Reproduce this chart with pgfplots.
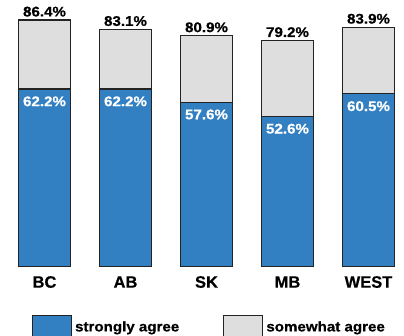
\documentclass[border=0pt]{standalone}
\usepackage{fontspec}
\setmainfont{Liberation Sans}
\newfontfamily\heavy{Liberation Sans Bold}[FakeBold=0.5]
\newfontfamily\heavywide{Liberation Sans Bold}[FakeBold=0.5,FakeStretch=1.08]
\usepackage{pgfplots}
\usepackage{pgfplotstable}
\pgfplotsset{compat=1.18}

\definecolor{agreeblue}{RGB}{50,128,194}
\definecolor{agreegray}{RGB}{222,222,222}
\definecolor{edgegray}{RGB}{35,35,35}

% share of respondents who agree, by province (total = strongly + somewhat)
\pgfplotstableread{
x strongly total
0 62.2 86.4
1 62.2 83.1
2 57.6 80.9
3 52.6 79.2
4 60.5 83.9
}\survey

\begin{document}
\begin{tikzpicture}[x=1pt,y=1pt]
\path[use as bounding box] (0,0) rectangle (404,336);
\begin{axis}[
  at={(4pt,69.7pt)}, anchor=south west,
  scale only axis, width=405pt, height=256.6pt,
  xmin=-0.5, xmax=4.5, ymin=0, ymax=90,
  ybar, bar width=52pt, bar shift=0pt,
  axis line style={draw=none},
  ytick=\empty,
  xtick={0,...,4}, xticklabels={BC,AB,SK,MB,WEST},
  major tick length=0pt,
  xticklabel style={font=\heavy\fontsize{16.5}{18}\selectfont, anchor=base, yshift=-21.4pt, inner sep=0pt},
  /pgf/number format/assume math mode=true,
  clip=false,
  point meta=explicit,
  nodes near coords={\pgfmathprintnumber[fixed,fixed zerofill,precision=1]{\pgfplotspointmeta}\%},
  legend columns=2,
  legend style={at={(axis description cs:0.0691,-0.188)}, anchor=north west,
    draw=none, fill=none, inner sep=0pt, outer sep=0pt,
    font=\heavywide\fontsize{14}{16}\selectfont,
    nodes={inner sep=3pt},
    /tikz/every even column/.append style={column sep=41pt}},
  legend image code/.code={\draw[#1] (0pt,-20pt) rectangle (39pt,12pt);},
]
% full bar: strongly + somewhat agree, total printed above
\addplot[fill=agreegray, draw=edgegray, line width=1.1pt, forget plot,
  every node near coord/.append style={font=\heavywide\fontsize{14}{16}\selectfont, text=black, anchor=base, yshift=3.5pt, inner sep=0pt}]
  table[x=x, y=total, meta=total]{\survey};
% strongly agree part, drawn over the lower end
\addplot[fill=agreeblue, draw=edgegray, line width=1.1pt, forget plot,
  every node near coord/.append style={font=\heavywide\fontsize{14}{16}\selectfont, text=white, anchor=base, yshift=-17.2pt, inner sep=0pt}]
  table[x=x, y=strongly, meta=strongly]{\survey};
\addlegendimage{fill=agreeblue, draw=edgegray, line width=1.1pt}
\addlegendentry{strongly agree}
\addlegendimage{fill=agreegray, draw=edgegray, line width=1.1pt}
\addlegendentry{somewhat agree}
\end{axis}
\end{tikzpicture}
\end{document}
